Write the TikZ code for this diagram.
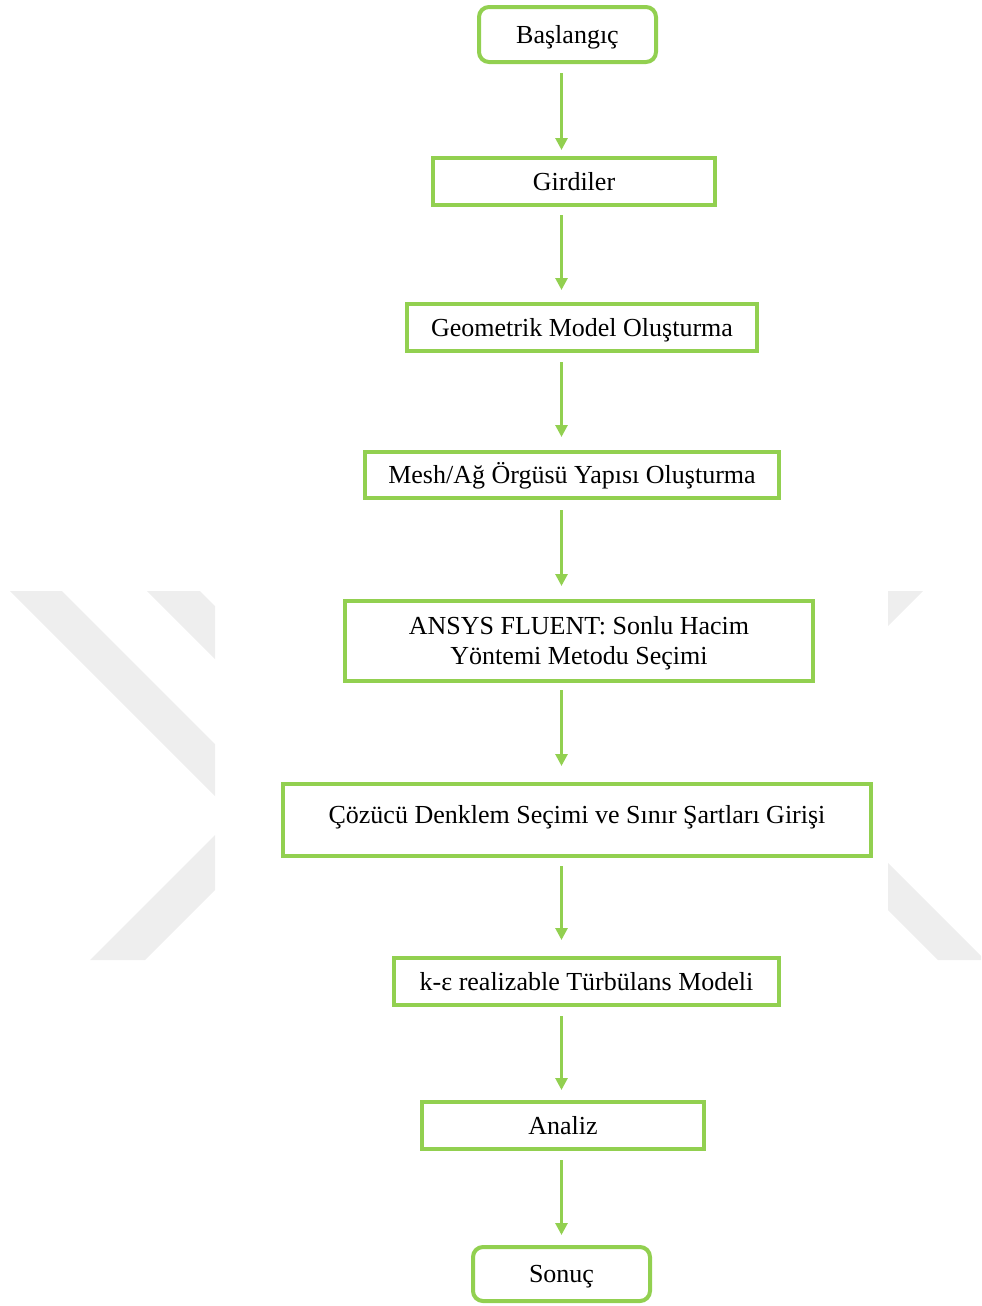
\documentclass[tikz,border=0pt]{standalone}
\usepackage{fontspec}
\setmainfont{Liberation Serif}
\usetikzlibrary{arrows.meta}
\definecolor{fgreen}{RGB}{146,208,80}
\definecolor{wmgray}{RGB}{238,238,238}
\begin{document}
\begin{tikzpicture}[x=0.5pt,y=-0.5pt,
  box/.style={draw=fgreen, line width=2pt, fill=white, inner sep=0pt,
    font=\fontsize{13}{15}\selectfont, align=center},
  oneline/.style={text height=9pt, text depth=0.4pt},
  term/.style={box, oneline, rounded corners=5pt},
  arr/.style={draw=fgreen, line width=1.4pt, -{Triangle[width=6pt,length=6pt]}}
]
\useasboundingbox (0,0) rectangle (981,1306);
% watermark
\begin{scope}
\clip (0,591) rectangle (215,960);
\fill[wmgray] (10,591) -- (62,591) -- (462,991) -- (410,991) -- cycle;
\fill[wmgray] (147,591) -- (200,591) -- (600,991) -- (547,991) -- cycle;
\fill[wmgray] (90,960) -- (145,960) -- (445,660) -- (390,660) -- cycle;
\end{scope}
\begin{scope}
\clip (888,591) rectangle (981,960);
\fill[wmgray] (923,591) -- (870,644) -- (870,591) -- cycle;
\fill[wmgray] (875,850) -- (985,960) -- (938,960) -- (875,897) -- cycle;
\end{scope}
% nodes
\node[term, minimum width=88.5pt, minimum height=27.5pt] (start) at (567.5,34.5) {Başlangıç};
\node[box, oneline, minimum width=141pt, minimum height=23.5pt] (inp) at (574,181.5) {Girdiler};
\node[box, oneline, minimum width=175pt, minimum height=23.5pt] (geo) at (582,327.5) {Geometrik Model Oluşturma};
\node[box, oneline, minimum width=207pt, minimum height=23pt] (mesh) at (572,475) {Mesh/Ağ Örgüsü Yapısı Oluşturma};
\node[box, minimum width=234pt, minimum height=40pt] (ansys) at (579,641) {\raisebox{-1pt}[\height][\depth]{ANSYS FLUENT: Sonlu Hacim}\\\raisebox{-1pt}[\height][\depth]{Yöntemi Metodu Seçimi}};
\node[box, text height=6pt, text depth=2.4pt, minimum width=294pt, minimum height=36pt] (solv) at (577,820) {Çözücü Denklem Seçimi ve Sınır Şartları Girişi};
\node[box, oneline, minimum width=192.5pt, minimum height=23.5pt] (turb) at (586.5,981.5) {k-ε realizable Türbülans Modeli};
\node[box, oneline, minimum width=141pt, minimum height=23.5pt] (anl) at (563,1125.5) {Analiz};
\node[term, minimum width=88.5pt, minimum height=27pt] (end) at (561.5,1274) {Sonuç};
% arrow axis
\coordinate (ax) at (561.5,0);
\draw[arr, shorten <=4.5pt, shorten >=3pt] (start.south -| ax) -- (inp.north -| ax);
\draw[arr, shorten <=4pt, shorten >=6pt] (inp.south -| ax) -- (geo.north -| ax);
\draw[arr, shorten <=4.5pt, shorten >=6.5pt] (geo.south -| ax) -- (mesh.north -| ax);
\draw[arr, shorten <=5pt, shorten >=6.5pt] (mesh.south -| ax) -- (ansys.north -| ax);
\draw[arr, shorten <=3.5pt, shorten >=8pt] (ansys.south -| ax) -- (solv.north -| ax);
\draw[arr, shorten <=4pt, shorten >=8pt] (solv.south -| ax) -- (turb.north -| ax);
\draw[arr, shorten <=4.5pt, shorten >=5pt] (turb.south -| ax) -- (anl.north -| ax);
\draw[arr, shorten <=4.5pt, shorten >=5pt] (anl.south -| ax) -- (end.north -| ax);
\end{tikzpicture}
\end{document}
